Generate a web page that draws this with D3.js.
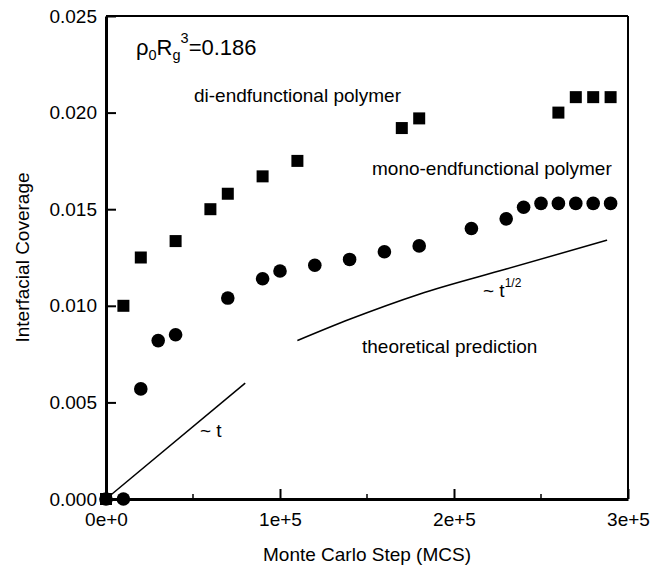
<!DOCTYPE html>
<html><head><meta charset="utf-8">
<script src="https://cdn.jsdelivr.net/npm/d3@7"></script>
<style>
body{margin:0;background:#fff;}
text{font-family:"Liberation Sans",Arial,Helvetica,sans-serif;fill:#000;}
</style></head>
<body>
<svg id="c" width="667" height="565"></svg>
<script>
// ---- data ----
const diX = [0, 10000, 20000, 40000, 60000, 70000, 90000, 110000, 170000, 180000, 260000, 270000, 280000, 290000];
const diY = [0, 0.0100, 0.0125, 0.01335, 0.0150, 0.0158, 0.0167, 0.0175, 0.0192, 0.0197, 0.0200, 0.0208, 0.0208, 0.0208];
const monoX = [0, 10000, 20000, 30000, 40000, 70000, 90000, 100000, 120000, 140000, 160000, 180000, 210000, 230000, 240000, 250000, 260000, 270000, 280000, 290000];
const monoY = [0, 0, 0.0057, 0.0082, 0.0085, 0.0104, 0.0114, 0.0118, 0.0121, 0.0124, 0.0128, 0.0131, 0.0140, 0.0145, 0.0151, 0.0153, 0.0153, 0.0153, 0.0153, 0.0153];
const linX = [0, 80000];
const linY = [0, 0.0060];
const sqrtX = [110000, 140000, 180000, 230000, 288000];
const sqrtY = [0.0082, 0.0093, 0.0106, 0.0119, 0.0134];
const xTicks = [0, 100000, 200000, 300000];
const xTickLabels = ["0e+0", "1e+5", "2e+5", "3e+5"];
const xMinor = [50000, 150000, 250000];
const yTicks = [0, 0.005, 0.010, 0.015, 0.020, 0.025];
const yTickLabels = ["0.000", "0.005", "0.010", "0.015", "0.020", "0.025"];

const svg = d3.select("#c");
const L = 106, R = 628, T = 16, B = 499;
const x = d3.scaleLinear().domain([0, 300000]).range([L, R]);
const y = d3.scaleLinear().domain([0, 0.025]).range([B, T]);
const FS = 19;

// frame top/right
svg.append("line").attr("x1", x(0)).attr("x2", x(300000)).attr("y1", y(0.025)).attr("y2", y(0.025)).attr("stroke", "#000").attr("stroke-width", 2);
svg.append("line").attr("x1", x(300000)).attr("x2", x(300000)).attr("y1", y(0.025)).attr("y2", y(0)).attr("stroke", "#000").attr("stroke-width", 2);

// minor x ticks
svg.append("g").selectAll("line").data(xMinor).join("line")
  .attr("x1", d => x(d)).attr("x2", d => x(d)).attr("y1", B).attr("y2", B - 5)
  .attr("stroke", "#000").attr("stroke-width", 1.5);

const xAxis = svg.append("g").attr("transform", `translate(0,${B})`)
  .call(d3.axisBottom(x).tickValues(xTicks).tickFormat((d, i) => xTickLabels[i]).tickSizeInner(-10).tickSizeOuter(0).tickPadding(14));
const yAxis = svg.append("g").attr("transform", `translate(${L},0)`)
  .call(d3.axisLeft(y).tickValues(yTicks).tickFormat((d, i) => yTickLabels[i]).tickSizeInner(-10).tickSizeOuter(0).tickPadding(9));
[xAxis, yAxis].forEach(a => {
  a.select(".domain").attr("stroke-width", 3);
  a.selectAll(".tick line").attr("stroke-width", 2);
  a.selectAll("text").attr("font-size", FS).attr("font-family", null);
});

// axis titles
svg.append("text").attr("x", (L + R) / 2).attr("y", 561).attr("text-anchor", "middle").attr("font-size", FS).text("Monte Carlo Step (MCS)");
svg.append("text").attr("transform", `translate(29,${(T + B) / 2}) rotate(-90)`).attr("text-anchor", "middle").attr("font-size", FS).text("Interfacial Coverage");

// lines
const line = d3.line().x(d => x(d[0])).y(d => y(d[1]));
svg.append("path").datum(linX.map((v, i) => [v, linY[i]])).attr("d", line).attr("fill", "none").attr("stroke", "#000").attr("stroke-width", 1.5);
svg.append("path").datum(sqrtX.map((v, i) => [v, sqrtY[i]])).attr("d", line.curve(d3.curveMonotoneX)).attr("fill", "none").attr("stroke", "#000").attr("stroke-width", 1.5);

// markers
const S = 12;
svg.append("g").selectAll("rect").data(diX.map((v, i) => [v, diY[i]])).join("rect")
  .attr("x", d => x(d[0]) - S / 2).attr("y", d => y(d[1]) - S / 2).attr("width", S).attr("height", S).attr("fill", "#000");
svg.append("g").selectAll("circle").data(monoX.map((v, i) => [v, monoY[i]])).join("circle")
  .attr("cx", d => x(d[0])).attr("cy", d => y(d[1])).attr("r", 6.8).attr("fill", "#000");

// annotations
const rho = svg.append("text").attr("x", 136).attr("y", 55).attr("font-size", 22);
rho.append("tspan").text("ρ");
rho.append("tspan").attr("font-size", 14.5).attr("dy", 5).text("0");
rho.append("tspan").attr("dy", -5).text("R");
rho.append("tspan").attr("font-size", 14.5).attr("dy", 5).text("g");
rho.append("tspan").attr("font-size", 14.5).attr("dy", -17).text("3");
rho.append("tspan").attr("dy", 12).text("=0.186");

svg.append("text").attr("x", 194).attr("y", 102).attr("font-size", FS).text("di-endfunctional polymer");
svg.append("text").attr("x", 372).attr("y", 175).attr("font-size", FS).text("mono-endfunctional polymer");
svg.append("text").attr("x", 362).attr("y", 353).attr("font-size", FS).text("theoretical prediction");
svg.append("text").attr("x", 200).attr("y", 437).attr("font-size", FS).text("~ t");
const st = svg.append("text").attr("x", 483).attr("y", 297).attr("font-size", FS);
st.append("tspan").text("~ t");
st.append("tspan").attr("font-size", 12).attr("dy", -10).text("1/2");
</script>
</body></html>
